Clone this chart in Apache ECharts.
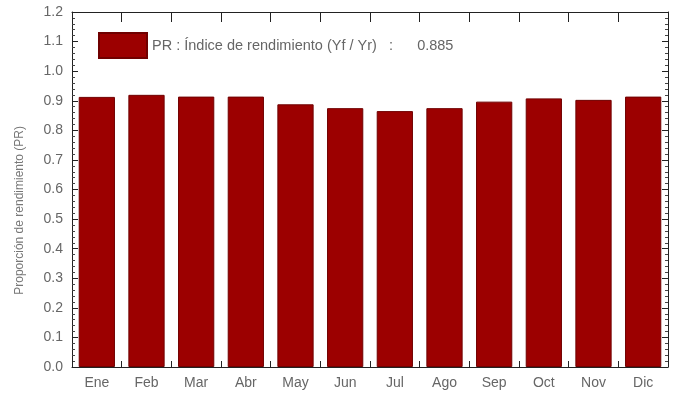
<!DOCTYPE html>
<html>
<head>
<meta charset="utf-8">
<script src="https://cdn.jsdelivr.net/npm/echarts@6/dist/echarts.min.js"></script>
<style>
html,body{margin:0;padding:0;background:#fff;}
#c{width:679px;height:394px;}
</style>
</head>
<body>
<div id="c"></div>
<script>
const months = ['Ene','Feb','Mar','Abr','May','Jun','Jul','Ago','Sep','Oct','Nov','Dic'];
const prValues = [0.913,0.920,0.914,0.914,0.888,0.875,0.865,0.875,0.897,0.908,0.903,0.914];
const prAnnual = '0.885';
const seriesName = 'PR : Índice de rendimiento (Yf / Yr)   :      ' + prAnnual;
const yAxisTitle = 'Proporción de rendimiento (PR)';

const font = 'Liberation Sans';
const chart = echarts.init(document.getElementById('c'), null, {renderer:'canvas'});
const axisLine = {show:true, onZero:false, lineStyle:{color:'#222', width:1}};
chart.setOption({
  animation:false,
  backgroundColor:'#fff',
  grid:{left:72, right:11, top:12, bottom:27, containLabel:false},
  legend:{
    show:true, left:93, top:27, itemWidth:48, itemHeight:25, itemGap:12,
    data:[seriesName],
    textStyle:{fontFamily:font, fontSize:14.5, color:'#666'},
    icon:'rect'
  },
  graphic:[{
    type:'text', left:14, top:126, rotation:Math.PI/2,
    style:{text:yAxisTitle, font:'12px "Liberation Sans"', fill:'#777'}
  }],
  xAxis:[{
    type:'category', data:months, position:'bottom',
    axisLine:axisLine,
    axisTick:{show:true, inside:true, length:6, lineStyle:{color:'#222'}},
    axisLabel:{fontFamily:font, fontSize:14, color:'#666', margin:9},
    splitLine:{show:false}
  },{
    type:'category', data:months, position:'top',
    axisLine:axisLine,
    axisTick:{show:true, inside:true, length:10, lineStyle:{color:'#222'}},
    axisLabel:{show:false},
    splitLine:{show:false}
  }],
  yAxis:[{
    type:'value', min:0, max:1.2, interval:0.1, position:'left',
    axisLine:axisLine,
    axisTick:{show:true, inside:true, length:6, lineStyle:{color:'#222'}},
    minorTick:{show:true, splitNumber:5, length:3, lineStyle:{color:'#444'}},
    axisLabel:{fontFamily:font, fontSize:14, color:'#666', margin:9, formatter:v=>v.toFixed(1)},
    splitLine:{show:false}
  },{
    type:'value', min:0, max:1.2, interval:0.1, position:'right',
    axisLine:axisLine,
    axisTick:{show:true, inside:true, length:6, lineStyle:{color:'#222'}},
    minorTick:{show:true, splitNumber:5, length:3, lineStyle:{color:'#444'}},
    axisLabel:{show:false},
    splitLine:{show:false}
  }],
  series:[{
    name:seriesName, type:'bar', data:prValues,
    xAxisIndex:0, yAxisIndex:0,
    barCategoryGap:'27%',
    itemStyle:{color:'#9c0000', borderColor:'#700000', borderWidth:1}
  }]
});
</script>
</body>
</html>
